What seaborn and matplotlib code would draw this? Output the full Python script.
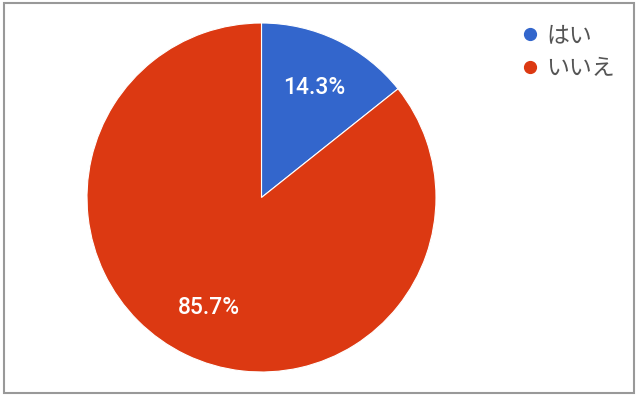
import matplotlib
matplotlib.use('Agg')
import matplotlib.pyplot as plt
import seaborn as sns
from matplotlib.lines import Line2D
from matplotlib.patches import Rectangle

# Data
labels = ['はい', 'いいえ']
shares = [14.3, 85.7]
colors = ['#3366CC', '#DC3912']

sns.set_theme(style='white')
plt.rcParams['font.family'] = ['Roboto', 'Noto Sans CJK JP', 'DejaVu Sans']

fig = plt.figure(figsize=(6.39, 4.0), dpi=100)
ax = fig.add_axes([0, 0, 1, 1])

# Outer frame
ax.add_patch(Rectangle((4, 7), 630, 390, fill=False, edgecolor='#999999', linewidth=1.5))

wedges, texts, autotexts = ax.pie(shares, colors=colors, startangle=90, counterclock=False,
                                  center=(261.5, 202.5), radius=174.5,
                                  autopct='%.1f%%', pctdistance=0.7,
                                  wedgeprops={'edgecolor': 'white', 'linewidth': 0.8},
                                  textprops={'color': 'white', 'fontsize': 16.5,
                                             'family': 'Roboto', 'weight': 500},
                                  frame=True)
ax.set_xlim(0, 639)
ax.set_ylim(0, 400)
ax.set_aspect('equal')
ax.axis('off')

handles = [Line2D([], [], marker='o', linestyle='', markersize=8.5, color=c) for c in colors]
leg = ax.legend(handles, labels, loc='upper left', bbox_to_anchor=(521, 376),
                bbox_transform=ax.transData, frameon=False, handletextpad=0.3,
                labelspacing=0.45, prop={'family': 'Noto Sans CJK JP', 'size': 16.5},
                handlelength=0.8, borderaxespad=0, borderpad=0)
for t in leg.get_texts():
    t.set_color('#555555')

fig.savefig('out.png', dpi=100)
